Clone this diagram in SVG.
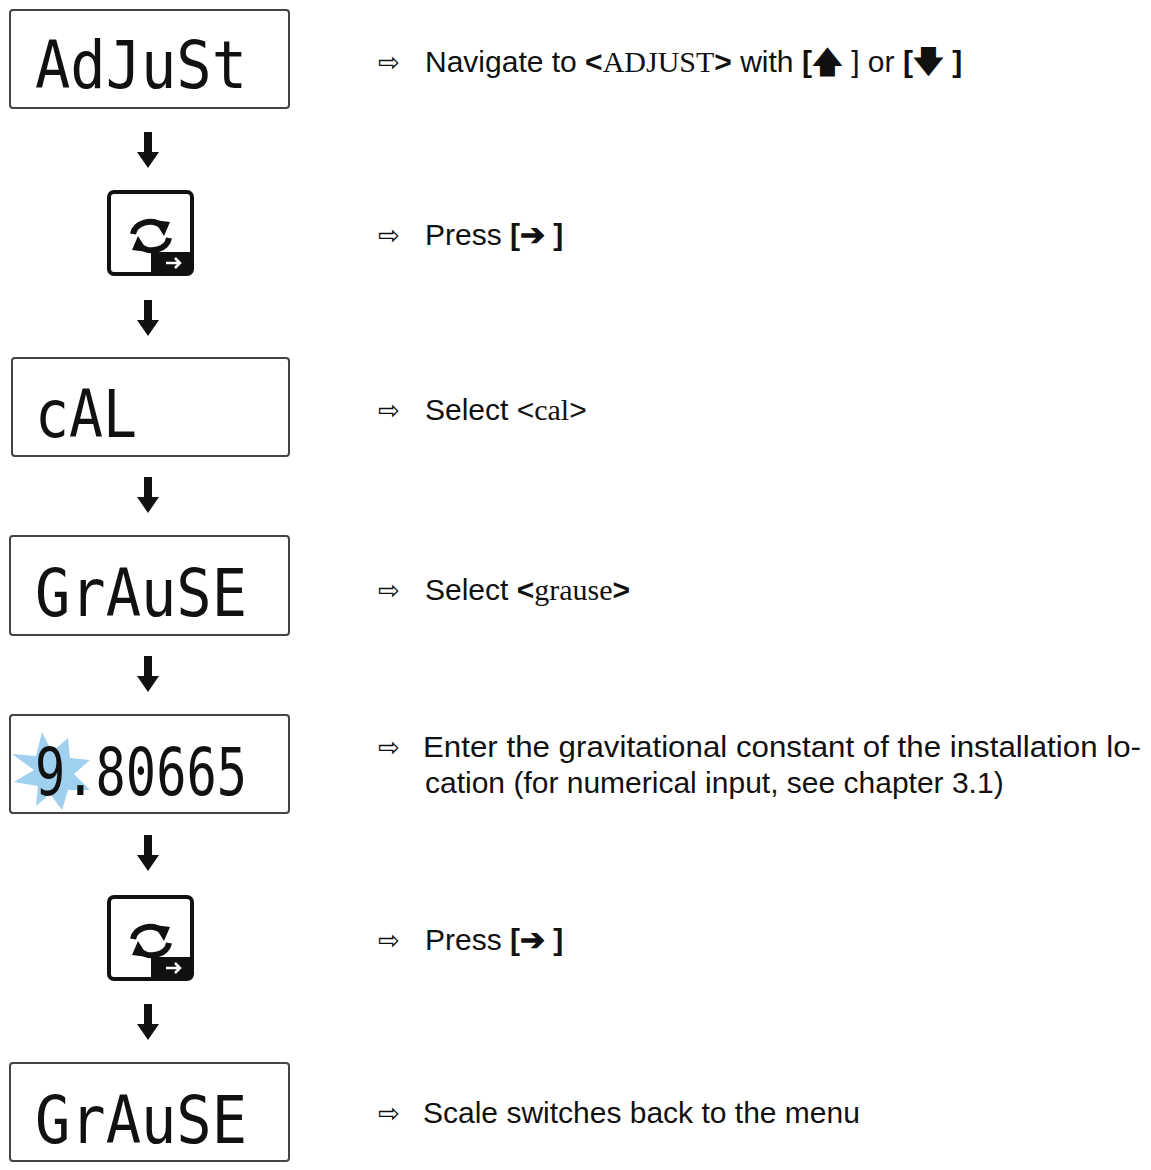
<svg xmlns="http://www.w3.org/2000/svg" width="1151" height="1170" viewBox="0 0 1151 1170">
<style>
.lcd{fill:#fff;stroke:#444;stroke-width:2}
.seg{font-family:"DejaVu Sans Mono",monospace;font-size:66px;fill:#111}
.t{font-family:"Liberation Sans",Arial,sans-serif;font-size:30px;fill:#111}
.s{font-family:"Liberation Serif","Times New Roman",serif}
.b{font-weight:bold}
.ar{font-family:"DejaVu Sans",sans-serif;font-size:26px;fill:#111}
</style>
<defs>
<g id="dn"><rect x="-4" y="0" width="8" height="22" fill="#111"/><polygon points="-11,20 11,20 0,36" fill="#111"/></g>
<g id="key">
<rect x="109" y="0" width="83" height="82" rx="5" fill="#fff" stroke="#111" stroke-width="4"/>
<path d="M151,60 h41 v17 a5,5 0 0 1 -5,5 h-36 z" fill="#111"/>
<path d="M166,71 h14 m-5,-5 l5,5 l-5,5" stroke="#fff" stroke-width="2.5" fill="none"/>
<path d="M133,42 a17,14 0 0 1 29,-8" stroke="#111" stroke-width="6" fill="none"/>
<polygon points="154,28 170,30 164,44" fill="#111"/>
<path d="M169,46 a17,14 0 0 1 -29,8" stroke="#111" stroke-width="6" fill="none"/>
<polygon points="148,60 132,58 138,44" fill="#111"/>
</g>
</defs>
<g id="n1"><rect class="lcd" x="10" y="10" width="279" height="98" rx="3"/><text class="seg" x="35" y="88" textLength="212" lengthAdjust="spacingAndGlyphs">AdJuSt</text></g>
<g id="n2"><use href="#key" y="192"/></g>
<g id="n3"><rect class="lcd" x="12" y="358" width="277" height="98" rx="3"/><text class="seg" x="35" y="437" textLength="102" lengthAdjust="spacingAndGlyphs">cAL</text></g>
<g id="n4"><rect class="lcd" x="10" y="536" width="279" height="99" rx="3"/><text class="seg" x="35" y="616" textLength="212" lengthAdjust="spacingAndGlyphs">GrAuSE</text></g>
<g id="n5"><rect class="lcd" x="10" y="715" width="279" height="98" rx="3"/>
<polygon points="42,732 52,752 68,738 70,758 90,760 74,774 90,790 68,790 62,810 50,794 36,806 38,786 14,782 34,770 12,754 36,756" fill="#9fd0f0"/>
<text class="seg" x="35" y="795" textLength="212" lengthAdjust="spacingAndGlyphs">9.80665</text></g>
<g id="n6"><use href="#key" y="897"/></g>
<g id="n7"><rect class="lcd" x="10" y="1063" width="279" height="98" rx="3"/><text class="seg" x="35" y="1143" textLength="212" lengthAdjust="spacingAndGlyphs">GrAuSE</text></g>
<g id="connectors">
<use href="#dn" x="148" y="132"/><use href="#dn" x="148" y="300"/><use href="#dn" x="148" y="477"/>
<use href="#dn" x="148" y="656"/><use href="#dn" x="148" y="835"/><use href="#dn" x="148" y="1004"/>
</g>
<g id="labels">
<text class="ar" x="378" y="71">⇨</text>
<text class="t" x="425" y="72">Navigate to <tspan class="b">&lt;</tspan><tspan class="s">ADJUST</tspan><tspan class="b">&gt;</tspan> with <tspan class="b">[🡅 </tspan>] or <tspan class="b">[🡇 ]</tspan></text>
<text class="ar" x="378" y="244">⇨</text>
<text class="t" x="425" y="245">Press <tspan class="b">[➔ ]</tspan></text>
<text class="ar" x="378" y="419">⇨</text>
<text class="t" x="425" y="420">Select &lt;<tspan class="s">cal</tspan>&gt;</text>
<text class="ar" x="378" y="599">⇨</text>
<text class="t" x="425" y="600">Select <tspan class="b">&lt;</tspan><tspan class="s">grause</tspan><tspan class="b">&gt;</tspan></text>
<text class="ar" x="378" y="756">⇨</text>
<text class="t" x="423" y="757" textLength="718" lengthAdjust="spacingAndGlyphs">Enter the gravitational constant of the installation lo-</text>
<text class="t" x="425" y="793">cation (for numerical input, see chapter 3.1)</text>
<text class="ar" x="378" y="949">⇨</text>
<text class="t" x="425" y="950">Press <tspan class="b">[➔ ]</tspan></text>
<text class="ar" x="378" y="1122">⇨</text>
<text class="t" x="423" y="1123">Scale switches back to the menu</text>
</g>
</svg>
